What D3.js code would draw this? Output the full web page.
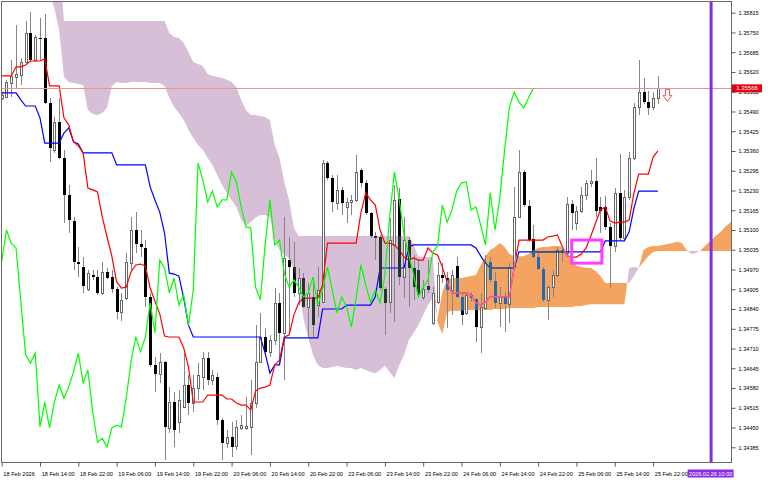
<!DOCTYPE html>
<html><head><meta charset="utf-8">
<script src="https://cdn.jsdelivr.net/npm/d3@7/dist/d3.min.js"></script>
<style>html,body{margin:0;padding:0;background:#fff;}svg{display:block;font-family:"Liberation Sans",Arial,sans-serif;}</style>
</head><body><svg id="c" width="768" height="480"></svg>
<script>
// ---- data (GBP-like H1 chart with Ichimoku) ----
const timeLabels = ["18 Feb 2026","18 Feb 14:00","18 Feb 22:00","19 Feb 06:00","19 Feb 14:00","19 Feb 22:00","20 Feb 06:00","20 Feb 14:00","20 Feb 22:00","23 Feb 06:00","23 Feb 14:00","23 Feb 22:00","24 Feb 06:00","24 Feb 14:00","24 Feb 22:00","25 Feb 06:00","25 Feb 14:00","25 Feb 22:00"];
const labelBars = [0,8,16,24,32,40,48,56,64,72,80,88,96,104,112,120,128,136];
const priceTicks = [1.35815,1.35750,1.35685,1.35620,1.35555,1.35490,1.35425,1.35360,1.35295,1.35230,1.35165,1.35100,1.35035,1.34970,1.34905,1.34840,1.34775,1.34710,1.34645,1.34580,1.34515,1.34450,1.34385];

const open = [1.35535,1.35538,1.35584,1.35604,1.35610,1.35653,1.35748,1.35660,1.35732,1.35732,
1.35518,1.35363,1.35456,1.35337,1.35215,1.35130,1.34995,1.34978,1.34906,1.34952,
1.34945,1.34893,1.34962,1.34945,1.34906,1.34830,1.34876,1.34991,1.35100,1.35054,
1.35041,1.34880,1.34656,1.34626,1.34666,1.34449,1.34534,1.34468,1.34518,1.34590,
1.34531,1.34580,1.34616,1.34679,1.34606,1.34616,1.34475,1.34399,1.34419,1.34389,
1.34449,1.34449,1.34452,1.34531,1.34666,1.34748,1.34699,1.34738,1.34860,1.34761,
1.35001,1.34978,1.34893,1.34942,1.34847,1.34880,1.34853,1.34863,1.35320,1.35271,
1.35189,1.35232,1.35176,1.35192,1.35199,1.35297,1.35255,1.35156,1.35080,1.35077,
1.34906,1.34863,1.35051,1.35202,1.34945,1.35067,1.34975,1.34968,1.34880,1.34916,
1.34794,1.34863,1.34952,1.34942,1.34903,1.34982,1.34880,1.34827,1.34886,1.34873,
1.34781,1.34843,1.34995,1.34932,1.34860,1.34883,1.34856,1.34978,1.35143,1.35291,
1.35179,1.35070,1.35011,1.34972,1.34870,1.34912,1.34952,1.35028,1.35024,1.35185,
1.35123,1.35162,1.35215,1.35255,1.35261,1.35176,1.35176,1.35110,1.35047,1.35222,
1.35074,1.35208,1.35337,1.35505,1.35554,1.35521,1.35505,1.35535];
const high = [1.35554,1.35594,1.35660,1.35775,1.35666,1.35788,1.35818,1.35742,1.35798,1.35811,
1.35535,1.35472,1.35535,1.35363,1.35248,1.35143,1.35044,1.35011,1.34968,1.34968,
1.34968,1.34995,1.34975,1.34968,1.34912,1.34893,1.35024,1.35143,1.35159,1.35100,
1.35067,1.34893,1.34682,1.34695,1.34670,1.34583,1.34567,1.34574,1.34695,1.34623,
1.34623,1.34662,1.34699,1.34699,1.34639,1.34629,1.34481,1.34442,1.34468,1.34475,
1.34491,1.34550,1.34606,1.34787,1.34827,1.34778,1.34754,1.34909,1.34893,1.35143,
1.35077,1.35061,1.34975,1.34958,1.34926,1.34945,1.34978,1.35330,1.35327,1.35281,
1.35281,1.35242,1.35205,1.35215,1.35347,1.35304,1.35265,1.35159,1.35094,1.35084,
1.34912,1.35140,1.35248,1.35238,1.35143,1.35077,1.35018,1.35001,1.34936,1.35001,
1.34912,1.34995,1.34991,1.34962,1.34968,1.35011,1.34893,1.34893,1.34896,1.34876,
1.34893,1.35018,1.35011,1.34962,1.34912,1.34896,1.34991,1.35242,1.35363,1.35298,
1.35199,1.35116,1.35024,1.34978,1.34919,1.34968,1.35044,1.35047,1.35208,1.35199,
1.35179,1.35242,1.35265,1.35297,1.35337,1.35208,1.35212,1.35123,1.35238,1.35350,
1.35232,1.35357,1.35518,1.35660,1.35600,1.35557,1.35554,1.35607];
const low = [1.35528,1.35535,1.35538,1.35567,1.35577,1.35650,1.35653,1.35653,1.35660,1.35515,
1.35324,1.35354,1.35334,1.35123,1.35090,1.34968,1.34945,1.34893,1.34899,1.34936,
1.34886,1.34886,1.34939,1.34893,1.34807,1.34801,1.34870,1.34968,1.35024,1.35011,
1.34847,1.34649,1.34567,1.34596,1.34343,1.34432,1.34386,1.34432,1.34514,1.34491,
1.34501,1.34541,1.34574,1.34590,1.34590,1.34458,1.34343,1.34383,1.34353,1.34376,
1.34442,1.34442,1.34360,1.34514,1.34662,1.34695,1.34682,1.34722,1.34656,1.34606,
1.34754,1.34880,1.34853,1.34843,1.34748,1.34748,1.34814,1.34860,1.35265,1.35159,
1.35166,1.35149,1.35123,1.35149,1.35192,1.35242,1.35149,1.35074,1.35001,1.34903,
1.34754,1.34827,1.34797,1.34919,1.34876,1.34847,1.34870,1.34880,1.34870,1.34893,
1.34787,1.34856,1.34926,1.34778,1.34820,1.34876,1.34787,1.34820,1.34863,1.34731,
1.34695,1.34837,1.34926,1.34843,1.34781,1.34764,1.34794,1.34968,1.35140,1.35176,
1.35061,1.35008,1.34968,1.34863,1.34804,1.34880,1.34945,1.34995,1.35011,1.35100,
1.35100,1.35156,1.35199,1.35242,1.35143,1.35090,1.35100,1.34909,1.35028,1.35067,
1.35067,1.35199,1.35330,1.35478,1.35515,1.35478,1.35495,1.35515];
const close = [1.35544,1.35587,1.35607,1.35613,1.35653,1.35748,1.35660,1.35735,1.35729,1.35518,
1.35370,1.35456,1.35337,1.35215,1.35133,1.34995,1.34988,1.34916,1.34958,1.34945,
1.34893,1.34962,1.34942,1.34906,1.34830,1.34870,1.34995,1.35100,1.35054,1.35044,
1.34880,1.34656,1.34626,1.34666,1.34452,1.34534,1.34442,1.34541,1.34590,1.34531,
1.34580,1.34623,1.34679,1.34606,1.34623,1.34475,1.34399,1.34419,1.34386,1.34452,
1.34458,1.34455,1.34531,1.34666,1.34748,1.34699,1.34738,1.34860,1.34761,1.35008,
1.34978,1.34893,1.34942,1.34847,1.34893,1.34787,1.34903,1.35320,1.35271,1.35192,
1.35232,1.35189,1.35192,1.35199,1.35291,1.35255,1.35156,1.35080,1.35074,1.34909,
1.34860,1.35067,1.35199,1.34945,1.35067,1.34975,1.34912,1.34886,1.34906,1.34903,
1.34893,1.34952,1.34942,1.34903,1.34952,1.34880,1.34820,1.34886,1.34876,1.34781,
1.34847,1.34991,1.34936,1.34860,1.34883,1.34856,1.34978,1.35143,1.35291,1.35182,
1.35067,1.35011,1.34972,1.34870,1.34912,1.34952,1.35034,1.35034,1.35185,1.35156,
1.35162,1.35215,1.35255,1.35261,1.35162,1.35162,1.35110,1.35047,1.35222,1.35074,
1.35208,1.35337,1.35505,1.35554,1.35521,1.35502,1.35535,1.35566];

const tenkan = [1.35607,1.35607,1.35607,1.35637,1.35637,1.35643,1.35656,1.35656,1.35656,1.35663,
1.35574,1.35574,1.35574,1.35469,1.35446,1.35390,1.35377,1.35354,1.35238,1.35232,
1.35225,1.35143,1.35077,1.35014,1.34929,1.34909,1.34912,1.34962,1.34985,1.34988,
1.34982,1.34909,1.34866,1.34824,1.34751,1.34748,1.34748,1.34748,1.34712,1.34649,
1.34534,1.34534,1.34534,1.34557,1.34557,1.34557,1.34557,1.34544,1.34544,1.34531,
1.34524,1.34524,1.34508,1.34570,1.34580,1.34583,1.34590,1.34656,1.34672,1.34748,
1.34754,1.34820,1.34860,1.34876,1.34876,1.34876,1.34876,1.34919,1.35057,1.35057,
1.35057,1.35057,1.35057,1.35057,1.35057,1.35156,1.35222,1.35199,1.35182,1.35100,
1.35057,1.35057,1.35051,1.35034,1.35011,1.35001,1.35008,1.35001,1.35001,1.35041,
1.35024,1.35018,1.34978,1.34929,1.34893,1.34893,1.34893,1.34893,1.34886,1.34860,
1.34853,1.34863,1.34880,1.34880,1.34880,1.34880,1.34880,1.34978,1.35067,1.35067,
1.35067,1.35067,1.35067,1.35067,1.35077,1.35080,1.35084,1.35047,1.35015,1.35011,
1.35011,1.35021,1.35041,1.35080,1.35123,1.35166,1.35176,1.35130,1.35123,1.35126,
1.35126,1.35133,1.35222,1.35284,1.35284,1.35284,1.35340,1.35360];
const kijun = [1.35551,1.35551,1.35551,1.35551,1.35528,1.35508,1.35508,1.35508,1.35469,1.35386,
1.35386,1.35386,1.35386,1.35419,1.35436,1.35390,1.35383,1.35354,1.35354,1.35354,
1.35354,1.35354,1.35354,1.35354,1.35314,1.35314,1.35314,1.35314,1.35314,1.35314,
1.35314,1.35242,1.35199,1.35159,1.35090,1.34958,1.34955,1.34948,1.34876,1.34787,
1.34748,1.34748,1.34748,1.34748,1.34748,1.34748,1.34748,1.34748,1.34748,1.34748,
1.34748,1.34748,1.34748,1.34748,1.34748,1.34695,1.34629,1.34656,1.34656,1.34745,
1.34745,1.34745,1.34745,1.34745,1.34745,1.34745,1.34745,1.34840,1.34840,1.34840,
1.34840,1.34840,1.34853,1.34853,1.34853,1.34853,1.34853,1.34853,1.34880,1.34975,
1.34975,1.34975,1.34975,1.34975,1.34975,1.35044,1.35051,1.35051,1.35051,1.35051,
1.35051,1.35051,1.35051,1.35051,1.35051,1.35051,1.35051,1.35051,1.35051,1.35041,
1.35015,1.34991,1.34975,1.34975,1.34975,1.34975,1.34975,1.34975,1.35028,1.35028,
1.35028,1.35028,1.35028,1.35028,1.35028,1.35028,1.35028,1.35028,1.35028,1.35028,
1.35028,1.35028,1.35028,1.35028,1.35028,1.35028,1.35064,1.35064,1.35064,1.35064,
1.35064,1.35094,1.35172,1.35228,1.35228,1.35228,1.35228,1.35228];
// lagging span, plotted 26 bars back
const chikou = [1.34995,1.35100,1.35057,1.35041,1.34863,1.34689,1.34662,1.34695,1.34452,1.34534,
1.34449,1.34534,1.34590,1.34547,1.34583,1.34633,1.34695,1.34597,1.34639,1.34501,
1.34402,1.34415,1.34386,1.34449,1.34458,1.34452,1.34547,1.34666,1.34748,1.34699,
1.34748,1.34860,1.34761,1.35001,1.34975,1.34893,1.34942,1.34853,1.34886,1.34787,
1.34903,1.35320,1.35265,1.35192,1.35228,1.35176,1.35199,1.35199,1.35291,1.35258,
1.35176,1.35110,1.35107,1.34912,1.34870,1.35051,1.35199,1.35051,1.35067,1.34958,
1.34912,1.34936,1.34912,1.34880,1.34893,1.34945,1.34853,1.34903,1.34978,1.34903,
1.34827,1.34880,1.34847,1.34781,1.34876,1.34985,1.34919,1.34863,1.34903,1.34860,
1.34952,1.35143,1.35291,1.35199,1.35084,1.35018,1.34952,1.34880,1.34912,1.34936,
1.35028,1.35047,1.35182,1.35126,1.35166,1.35228,1.35255,1.35258,1.35166,1.35176,
1.35117,1.35051,1.35222,1.35100,1.35208,1.35363,1.35505,1.35554,1.35521,1.35502,
1.35535,1.35566];
// leading spans, already shifted 26 bars forward (index = bar position)
const spanA = [1.35923,1.35923,1.35923,1.35923,1.35923,1.35923,1.35923,1.35923,1.35923,1.35923,
1.35873,1.35831,1.35758,1.35604,1.35587,1.35584,1.35580,1.35577,1.35495,1.35482,
1.35478,1.35485,1.35502,1.35574,1.35587,1.35584,1.35584,1.35587,1.35587,1.35587,
1.35587,1.35584,1.35584,1.35584,1.35574,1.35535,1.35505,1.35485,1.35462,1.35429,
1.35403,1.35380,1.35363,1.35337,1.35314,1.35281,1.35248,1.35222,1.35199,1.35176,
1.35133,1.35113,1.35126,1.35140,1.35149,1.35149,1.35143,1.35067,1.35034,1.35018,
1.35008,1.34968,1.34903,1.34810,1.34745,1.34689,1.34656,1.34646,1.34646,1.34649,
1.34653,1.34649,1.34646,1.34646,1.34639,1.34646,1.34639,1.34633,1.34629,1.34639,
1.34653,1.34633,1.34613,1.34656,1.34689,1.34738,1.34761,1.34787,1.34820,1.34853,
1.34876,1.34810,1.34896,1.34936,1.34942,1.34942,1.34942,1.34945,1.34949,1.34952,
1.34985,1.35014,1.35034,1.35044,1.35057,1.35044,1.35021,1.35014,1.35014,1.35014,
1.35021,1.35034,1.35041,1.35044,1.35044,1.35047,1.35047,1.35044,1.35028,1.35001,
1.34982,1.34978,1.34975,1.34975,1.34965,1.34949,1.34926,1.34926,1.34926,1.34926,
1.34926,1.34926,1.34949,1.34975,1.35034,1.35044,1.35047,1.35047,1.35051,1.35054,
1.35057,1.35061,1.35057,1.35034,1.35021,1.35024,1.35034,1.35051,1.35064,1.35080,
1.35093,1.35110,1.35123,1.35140];
const spanB = [1.35989,1.35989,1.35989,1.35989,1.35989,1.35989,1.35989,1.35989,1.35989,1.35989,
1.35989,1.35989,1.35989,1.35788,1.35788,1.35788,1.35788,1.35788,1.35788,1.35788,
1.35788,1.35788,1.35788,1.35788,1.35788,1.35788,1.35788,1.35788,1.35788,1.35788,
1.35788,1.35788,1.35788,1.35788,1.35788,1.35748,1.35735,1.35732,1.35715,1.35686,
1.35653,1.35646,1.35640,1.35613,1.35607,1.35604,1.35600,1.35594,1.35587,1.35570,
1.35528,1.35495,1.35478,1.35478,1.35475,1.35472,1.35462,1.35380,1.35337,1.35258,
1.35199,1.35107,1.35080,1.35080,1.35080,1.35080,1.35080,1.35080,1.35080,1.35080,
1.35080,1.35080,1.35080,1.35080,1.35080,1.35080,1.35080,1.35080,1.35080,1.35080,
1.35080,1.35080,1.35080,1.35080,1.35080,1.35080,1.35051,1.35011,1.35011,1.35011,
1.35011,1.34797,1.34758,1.34830,1.34834,1.34834,1.34834,1.34837,1.34837,1.34837,
1.34837,1.34837,1.34837,1.34840,1.34840,1.34840,1.34843,1.34843,1.34843,1.34843,
1.34843,1.34843,1.34847,1.34847,1.34847,1.34847,1.34847,1.34847,1.34847,1.34847,
1.34850,1.34850,1.34853,1.34856,1.34856,1.34856,1.34856,1.34856,1.34856,1.34856,
1.34856,1.34975,1.34978,1.34975,1.34995,1.35014,1.35028,1.35031,1.35031,1.35031,
1.35031,1.35031,1.35031,1.35031,1.35031,1.35031,1.35031,1.35031,1.35031,1.35031,
1.35031,1.35031,1.35031,1.35031];

const currentPrice = 1.35566;
const markerBox = [119, 125.3, 1.35067, 1.34991];   // bar from, bar to, price top, price bottom
const signalArrow = [139, 1.35566];                  // bar, price
const futureBar = 148, futureLabel = "2026.02.26 10:00";

// ---- drawing ----
const svg = d3.select("#c");
svg.append("rect").attr("width",768).attr("height",480).attr("fill","#fff");
const x = d3.scaleLinear().domain([0,148]).range([1.67,710.6]);
const y = d3.scaleLinear().domain([1.34385,1.35815]).range([447.3,12.7]);
const defs = svg.append("defs");
defs.append("clipPath").attr("id","plot").append("rect").attr("x",2).attr("y",2).attr("width",729).attr("height",460);

// cloud with crossing points
const pts = [];
for (let i=0;i<spanA.length;i++){
  pts.push({i, a:spanA[i], b:spanB[i]});
  if (i<spanA.length-1){
    const d0=spanA[i]-spanB[i], d1=spanA[i+1]-spanB[i+1];
    if (d0*d1<0){ const t=d0/(d0-d1); pts.push({i:i+t, a:spanA[i]+t*(spanA[i+1]-spanA[i]), b:spanB[i]+t*(spanB[i+1]-spanB[i])}); }
  }
}
const orangeArea = d3.area().x(d=>x(d.i)).y0(d=>y(d.b)).y1(d=>y(Math.max(d.a,d.b)));
const thistleArea = d3.area().x(d=>x(d.i)).y0(d=>y(d.a)).y1(d=>y(Math.max(d.a,d.b)));
defs.append("clipPath").attr("id","oclip").append("path").attr("d",orangeArea(pts));
defs.append("clipPath").attr("id","tclip").append("path").attr("d",thistleArea(pts));

const g = svg.append("g").attr("clip-path","url(#plot)");
g.append("path").attr("d",thistleArea(pts)).attr("fill","#D8BFD8");
g.append("path").attr("d",orangeArea(pts)).attr("fill","#F4A460");

const bars = open.map((o,i)=>({i,o,h:high[i],l:low[i],c:close[i]}));
const cx = i => Math.round(x(i));
function candles(sel, bearFill, withWicks, withBull){
  const cg = sel.append("g").attr("shape-rendering","crispEdges");
  if (withWicks) cg.selectAll("line").data(bars).join("line")
    .attr("x1",d=>cx(d.i)+0.5).attr("x2",d=>cx(d.i)+0.5)
    .attr("y1",d=>y(d.h)).attr("y2",d=>y(d.l)).attr("stroke","#858585").attr("stroke-width",1);
  const bear = bars.filter(d=>d.c<d.o), bull = bars.filter(d=>d.c>=d.o);
  cg.selectAll("rect.bear").data(bear).join("rect").attr("class","bear")
    .attr("x",d=>cx(d.i)-1).attr("width",3)
    .attr("y",d=>y(d.o)).attr("height",d=>Math.max(1,y(d.c)-y(d.o))).attr("fill",bearFill);
  if (withBull) cg.selectAll("rect.bull").data(bull).join("rect").attr("class","bull")
    .attr("x",d=>cx(d.i)-0.5).attr("width",2)
    .attr("y",d=>Math.round(y(d.c))+0.5).attr("height",d=>Math.max(0.5,Math.round(y(d.o))-Math.round(y(d.c))))
    .attr("fill","#fff").attr("stroke","#666").attr("stroke-width",1);
}
candles(g,"#000",true,true);

const line = d3.line().x((d,i)=>x(i)).y(d=>y(d));
function lines(sel, kc, tc){
  sel.append("path").attr("d",line(kijun)).attr("fill","none").attr("stroke",kc).attr("stroke-width",1.2);
  sel.append("path").attr("d",line(tenkan)).attr("fill","none").attr("stroke",tc).attr("stroke-width",1.2);
}
lines(g,"#0000ff","#ff0000");

// recolour overlaps inside the cloud
const go = g.append("g").attr("clip-path","url(#oclip)");
candles(go,"#2469a8",false,false);
lines(go,"#2d6b6b","#ff66b3");
const gt = g.append("g").attr("clip-path","url(#tclip)");
candles(gt,"#26362b",false,false);

g.append("path").attr("d",line(chikou)).attr("fill","none").attr("stroke","#00ff00").attr("stroke-width",1.2);

// current price line
g.append("line").attr("x1",0).attr("x2",731).attr("y1",Math.round(y(currentPrice))+0.5).attr("y2",Math.round(y(currentPrice))+0.5)
  .attr("stroke","#f09090").attr("stroke-width",1);

// magenta box
g.append("rect").attr("x",x(markerBox[0])).attr("y",y(markerBox[2]))
  .attr("width",x(markerBox[1])-x(markerBox[0])).attr("height",y(markerBox[3])-y(markerBox[2]))
  .attr("fill","none").attr("stroke","#ff3cff").attr("stroke-width",3);

// sell arrow
{ const ax=x(signalArrow[0]), ay=y(signalArrow[1]);
  g.append("path").attr("d",`M${ax-2},${ay+1}H${ax+2}V${ay+7}H${ax+4.5}L${ax},${ay+13}L${ax-4.5},${ay+7}H${ax-2}Z`)
   .attr("fill","#fff").attr("stroke","#ff5050").attr("stroke-width",1); }

// future vertical line
g.append("line").attr("x1",x(futureBar)+0.5).attr("x2",x(futureBar)+0.5).attr("y1",0).attr("y2",462)
  .attr("stroke","#8a2be2").attr("stroke-width",3);

// frame
const fr = svg.append("g").attr("stroke","#6a6a6a").attr("stroke-width",1).attr("shape-rendering","crispEdges");
fr.append("line").attr("x1",1).attr("x2",731).attr("y1",1.5).attr("y2",1.5);
fr.append("line").attr("x1",1.5).attr("x2",1.5).attr("y1",1).attr("y2",462);
fr.append("line").attr("x1",731.5).attr("x2",731.5).attr("y1",1).attr("y2",463);
fr.append("line").attr("x1",1).attr("x2",731.5).attr("y1",462.5).attr("y2",462.5);

// axes
const fs = "5.6px";
const ay = svg.append("g").attr("transform","translate(731.5,0)")
  .call(d3.axisRight(y).tickValues(priceTicks).tickSize(4).tickFormat(d3.format(".5f")));
ay.select(".domain").remove();
ay.selectAll("line").attr("stroke","#555");
ay.selectAll("text").attr("x",7).attr("font-size",fs).attr("fill","#000").attr("font-family","Liberation Sans, Arial, sans-serif");

const ax = svg.append("g").attr("transform","translate(0,462.5)")
  .call(d3.axisBottom(x).tickValues(labelBars).tickSize(4).tickFormat((d,i)=>timeLabels[i]));
ax.select(".domain").remove();
ax.selectAll("line").attr("stroke","#555");
ax.selectAll("text").attr("text-anchor","start").attr("x",1.2).attr("y",13).attr("dy",0)
  .attr("font-size",fs).attr("fill","#000").attr("font-family","Liberation Sans, Arial, sans-serif");

// current price label
const py = y(currentPrice);
svg.append("rect").attr("x",732).attr("y",py-4).attr("width",30).attr("height",8).attr("fill","#e4000f");
svg.append("text").attr("x",747).attr("y",py).attr("dy","0.35em").attr("text-anchor","middle")
  .attr("font-size","6px").attr("fill","#fff").text(d3.format(".5f")(currentPrice));

// future time label
const fx = x(futureBar);
svg.append("rect").attr("x",fx-23).attr("y",469.5).attr("width",46).attr("height",8).attr("fill","#8a2be2");
svg.append("text").attr("x",fx).attr("y",475.5).attr("text-anchor","middle").attr("font-size",fs).attr("fill","#fff").text(futureLabel);
</script></body></html>
